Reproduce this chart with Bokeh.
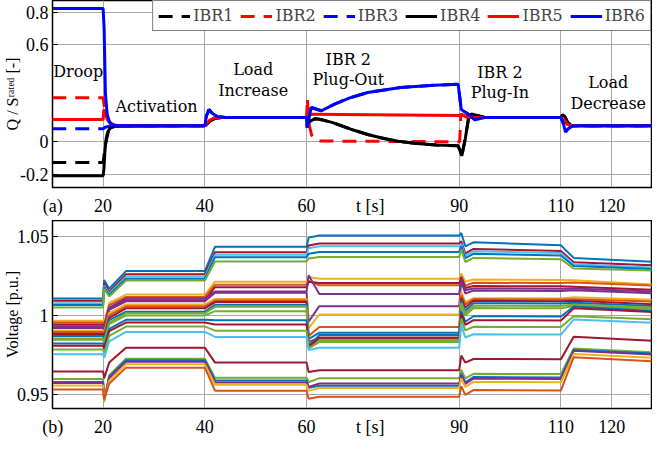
from bokeh.plotting import figure
from bokeh.layouts import column
from bokeh.models import Range1d, FixedTicker, Label, Legend, LegendItem, ColumnDataSource
from bokeh.embed import file_html
from bokeh.resources import INLINE

FONT = "'Liberation Serif', 'Times New Roman', serif"   # axes
TEXT_FONT = "DejaVu Serif"                               # annotations and legend

# ---------------- axis ticks ----------------
X_TICKS = [20, 40, 60, 90, 110, 120]
Q_TICKS = [-0.2, 0, 0.6, 0.8]
V_TICKS = [0.95, 1, 1.05]
ROW_LABEL_X = [10.1, 72.5]
TOP_ROW_TEXT = ["(a)", "t [s]"]
BOT_ROW_TEXT = ["(b)", "t [s]"]

# ---------------- top panel: Q / S_rated ----------------
IBR_NAMES = ["IBR1", "IBR2", "IBR3", "IBR4", "IBR5", "IBR6"]

IBR1_T = [10, 20, 20.2, 20.5, 21.0, 22.0, 23.5, 40, 40.3, 41.0, 42.0, 43.5,
          60, 60.2, 60.8, 61.6, 62.5, 65.0, 68.7, 72.0, 75.2, 78.0, 81.7, 85.5, 89.8,
          90.5, 91.2, 91.8, 92.4, 93.3, 95.0, 110, 110.3, 110.7, 111.3, 112.0, 113.0, 130]
IBR1_Q = [-0.128, -0.128, -0.08, -0.01, 0.06, 0.09, 0.10, 0.10, 0.105, 0.13, 0.145, 0.15,
          0.15, 0.11, 0.13, 0.142, 0.14, 0.12, 0.078, 0.045, 0.02, 0.003, -0.011, -0.02, -0.025,
          -0.087, 0.02, 0.14, 0.172, 0.165, 0.151, 0.15, 0.168, 0.16, 0.12, 0.102, 0.10, 0.10]

IBR2_T = [10, 20, 20.3, 20.8, 21.5, 23, 40, 40.3, 41.0, 42.0,
          60, 60.15, 60.4, 61.0, 62.0, 89.9, 90.1, 90.3, 91.0, 92.0,
          110, 110.5, 111.2, 112.0, 130]
IBR2_Q = [0.272, 0.272, 0.20, 0.14, 0.11, 0.10, 0.10, 0.11, 0.135, 0.15,
          0.15, 0.27, 0.12, 0.04, 0.005, 0.0, 0.0, 0.17, 0.16, 0.15,
          0.15, 0.14, 0.11, 0.10, 0.10]

IBR3_T = [10, 20, 20.4, 21.5, 23, 40, 40.3, 40.8, 41.5, 42.5, 44,
          60, 60.1, 60.9, 62.9, 65.5, 68.5, 72.0, 78.5, 85.0, 89.8,
          90.4, 91.8, 93.1, 95, 110, 110.4, 110.9, 111.4, 112.2, 113, 130]
IBR3_Q = [0.08, 0.08, 0.09, 0.098, 0.10, 0.10, 0.16, 0.20, 0.175, 0.157, 0.15,
          0.15, 0.088, 0.212, 0.192, 0.233, 0.272, 0.305, 0.336, 0.35, 0.356,
          0.20, 0.17, 0.136, 0.15, 0.15, 0.12, 0.06, 0.08, 0.097, 0.10, 0.10]

IBR4_T = [10, 20, 20.15, 20.35, 20.6, 20.9, 21.4, 22.5, 40, 40.3, 41.0, 42.0, 43.5,
          60, 60.2, 60.8, 61.6, 62.5, 65.0, 68.7, 72.0, 75.2, 78.0, 81.7, 85.5, 89.8,
          90.5, 91.2, 91.8, 92.4, 93.3, 95.0, 110, 110.3, 110.7, 111.3, 112.0, 113.0, 130]
IBR4_Q = [-0.21, -0.21, -0.17, -0.06, 0.02, 0.06, 0.085, 0.097, 0.10, 0.105, 0.13, 0.145, 0.15,
          0.15, 0.11, 0.13, 0.142, 0.14, 0.12, 0.078, 0.045, 0.02, 0.003, -0.011, -0.02, -0.025,
          -0.087, 0.02, 0.14, 0.172, 0.165, 0.151, 0.15, 0.168, 0.16, 0.12, 0.102, 0.10, 0.10]

IBR5_T = [10, 20, 20.15, 20.5, 21.0, 21.8, 23, 40, 40.3, 41.0, 42.0,
          60, 60.2, 60.6, 61.2, 90, 90.5, 91.5, 93, 110, 110.5, 111.2, 112.0, 130]
IBR5_Q = [0.138, 0.138, 0.20, 0.17, 0.13, 0.108, 0.10, 0.10, 0.11, 0.135, 0.15,
          0.15, 0.185, 0.165, 0.171, 0.162, 0.17, 0.152, 0.15, 0.15, 0.14, 0.11, 0.10, 0.10]

IBR6_T = [10, 20, 20.2, 20.45, 20.8, 21.3, 22.1, 24, 40, 40.3, 40.8, 41.5, 42.5, 44,
          60, 60.1, 60.9, 62.9, 65.5, 68.5, 72.0, 78.5, 85.0, 89.8,
          90.4, 91.8, 93.1, 95, 110, 110.4, 110.9, 111.4, 112.2, 113, 130]
IBR6_Q = [0.825, 0.825, 0.70, 0.30, 0.17, 0.12, 0.10, 0.10, 0.10, 0.16, 0.20, 0.175, 0.157, 0.15,
          0.15, 0.088, 0.212, 0.192, 0.233, 0.272, 0.305, 0.336, 0.35, 0.356,
          0.20, 0.17, 0.136, 0.15, 0.15, 0.12, 0.06, 0.08, 0.097, 0.10, 0.10]

IBR_COLORS = ["black", "#FF0000", "#0000FF", "black", "#FF0000", "#0000FF"]
IBR_DASH = ["14 9", "14 9", "14 9", "solid", "solid", "solid"]

# ---------------- top panel annotations ----------------
EVENT_TEXT = ["Droop", "Activation", "Load", "Increase", "IBR 2", "Plug-Out",
              "IBR 2", "Plug-In", "Load", "Decrease"]
EVENT_X = [15.1, 30.5, 49.5, 49.5, 68.2, 68.2, 98.0, 98.0, 119.3, 119.3]
EVENT_Y = [0.435, 0.218, 0.447, 0.317, 0.511, 0.387, 0.429, 0.305, 0.367, 0.237]

# ---------------- bottom panel: bus voltages ----------------
KNOT_T = [10, 20, 20.2, 21.2, 24.5, 40, 42, 60, 60.4, 62.5, 90, 90.4, 91.2, 92.8, 110, 112.5, 130]

BLUE, ORANGE, YELLOW, PURPLE = "#0072BD", "#D95319", "#EDB120", "#7E2F8E"
GREEN, LBLUE, DRED = "#77AC30", "#4DBEEE", "#A2142F"
BUS_COLORS = [BLUE, DRED, LBLUE, BLUE, GREEN,
              YELLOW, ORANGE, DRED, PURPLE, PURPLE, YELLOW, ORANGE, DRED, BLUE, GREEN,
              GREEN, BLUE, DRED, GREEN, LBLUE,
              DRED, GREEN, BLUE, PURPLE, YELLOW, ORANGE]

V_DROOP = [1.0108, 1.0093, 1.0078, 1.0066, 1.0051,
           0.9967, 0.9955, 0.9942, 0.9932, 0.9920, 0.9905, 0.9895, 0.9882, 0.9870, 0.9853,
           0.9845, 0.9822, 0.9807, 0.9784, 0.9753,
           0.9644, 0.9596, 0.9577, 0.9570, 0.9555, 0.9529]
V_T20 = [1.0225, 1.0205, 1.0190, 1.0180, 1.0170,
         0.9950, 0.9940, 0.9930, 0.9920, 0.9905, 0.9890, 0.9880, 0.9865, 0.9850, 0.9835,
         0.9825, 0.9800, 0.9785, 0.9760, 0.9730,
         0.9600, 0.9450, 0.9460, 0.9470, 0.9455, 0.9465]
V_R20 = [1.0170, 1.0150, 1.0140, 1.0130, 1.0120,
         1.0080, 1.0065, 1.0045, 1.0050, 1.0035, 1.0015, 1.0000, 0.9985, 0.9970, 0.9955,
         0.9945, 0.9915, 0.9900, 0.9870, 0.9835,
         0.9700, 0.9620, 0.9610, 0.9600, 0.9585, 0.9565]
V_ACT = [1.0282, 1.0262, 1.0247, 1.0234, 1.0222,
         1.0133, 1.0118, 1.0097, 1.0108, 1.0090, 1.0070, 1.0058, 1.0045, 1.0024, 1.0014,
         1.0000, 0.9972, 0.9955, 0.9929, 0.9895,
         0.9795, 0.9725, 0.9715, 0.9705, 0.9690, 0.9668]
V_INC = [1.0437, 1.0402, 1.0386, 1.0371, 1.0343,
         1.0215, 1.0195, 1.0180, 1.0152, 1.0145, 1.0105, 1.0095, 1.0085, 1.0068, 1.0055,
         1.0027, 0.9970, 0.9943, 0.9903, 0.9863,
         0.9700, 0.9603, 0.9586, 0.9574, 0.9559, 0.9521]
V_T60 = [1.0495, 1.0445, 1.0428, 1.0392, 1.0362,
         1.0245, 1.0220, 1.0215, 1.0255, 0.9960, 0.9920, 0.9870, 0.9830, 0.9850, 0.9825,
         0.9810, 0.9805, 0.9800, 0.9790, 0.9780,
         0.9640, 0.9575, 0.9540, 0.9545, 0.9520, 0.9470]
V_OUT = [1.0508, 1.0458, 1.0440, 1.0404, 1.0372,
         1.0234, 1.0192, 1.0206, 1.0137, 1.0059, 1.0006, 0.9926, 0.9858, 0.9890, 0.9844,
         0.9831, 0.9875, 0.9858, 0.9831, 0.9795,
         0.9652, 0.9601, 0.9553, 0.9567, 0.9538, 0.9483]
V_T90 = [1.0525, 1.0472, 1.0455, 1.0440, 1.0420,
         1.0268, 1.0250, 1.0240, 1.0230, 1.0220, 1.0150, 1.0130, 1.0110, 1.0095, 1.0080,
         1.0065, 1.0030, 1.0010, 0.9980, 0.9940,
         0.9745, 0.9655, 0.9630, 0.9620, 0.9600, 0.9550]
V_D90 = [1.0440, 1.0395, 1.0380, 1.0365, 1.0340,
         1.0215, 1.0190, 1.0175, 1.0160, 1.0140, 1.0085, 1.0070, 1.0050, 1.0030, 1.0015,
         1.0000, 0.9960, 0.9940, 0.9905, 0.9860,
         0.9700, 0.9600, 0.9575, 0.9565, 0.9545, 0.9495]
V_IN = [1.0465, 1.0423, 1.0408, 1.0392, 1.0366,
        1.0229, 1.0208, 1.0187, 1.0172, 1.0158, 1.0110, 1.0103, 1.0093, 1.0078, 1.0062,
        1.0047, 0.9995, 0.9970, 0.9928, 0.9880,
        0.9723, 0.9629, 0.9608, 0.9598, 0.9577, 0.9525]
V_IN_END = [1.0446, 1.0410, 1.0398, 1.0382, 1.0358,
            1.0226, 1.0206, 1.0185, 1.0170, 1.0156, 1.0108, 1.0101, 1.0090, 1.0076, 1.0060,
            1.0045, 0.9993, 0.9968, 0.9926, 0.9878,
            0.9721, 0.9627, 0.9606, 0.9596, 0.9575, 0.9523]
V_DEC = [1.0366, 1.0339, 1.0326, 1.0315, 1.0299,
         1.0224, 1.0210, 1.0183, 1.0172, 1.0160, 1.0115, 1.0103, 1.0093, 1.0080, 1.0070,
         1.0060, 1.0057, 1.0045, 0.9995, 0.9974,
         0.9865, 0.9790, 0.9780, 0.9775, 0.9755, 0.9734]
V_DEC_END = [1.0338, 1.0316, 1.0303, 1.0293, 1.0284,
             1.0193, 1.0188, 1.0160, 1.0149, 1.0138, 1.0098, 1.0087, 1.0068, 1.0058, 1.0048,
             1.0038, 1.0024, 1.0018, 0.9973, 0.9951,
             0.9836, 0.9763, 0.9755, 0.9748, 0.9728, 0.9705]

PHASE_AT_KNOT = [V_DROOP, V_DROOP, V_T20, V_R20, V_ACT, V_ACT, V_INC, V_INC, V_T60,
                 V_OUT, V_OUT, V_T90, V_D90, V_IN, V_IN_END, V_DEC, V_DEC_END]

GRID = "#a8a8a8"


def style(p, yticks, yover, row_text, ytitle, title_standoff):
    p.xaxis.ticker = FixedTicker(ticks=sorted(X_TICKS + ROW_LABEL_X))
    p.xaxis.major_label_overrides = dict(zip(ROW_LABEL_X, row_text))
    p.xgrid.ticker = FixedTicker(ticks=X_TICKS)
    p.yaxis.ticker = FixedTicker(ticks=yticks)
    p.yaxis.major_label_overrides = yover
    for ax in p.xaxis + p.yaxis:
        ax.major_label_text_font = FONT
        ax.major_label_text_font_size = "18px"
        ax.major_label_text_color = "black"
        ax.major_tick_in = 5
        ax.major_tick_out = 0
        ax.minor_tick_line_color = None
        ax.axis_line_color = "black"
        ax.major_tick_line_color = "black"
    p.xaxis.major_tick_line_color = None
    p.xaxis.major_label_standoff = 8
    p.yaxis.major_label_standoff = 4
    p.yaxis.axis_label = ytitle
    p.yaxis.axis_label_text_font = FONT
    p.yaxis.axis_label_text_font_size = "16px"
    p.yaxis.axis_label_text_font_style = "normal"
    p.yaxis.axis_label_text_color = "black"
    p.yaxis.axis_label_standoff = title_standoff
    p.xgrid.grid_line_color = GRID
    p.ygrid.grid_line_color = GRID
    p.outline_line_color = "black"
    p.outline_line_width = 1.5
    p.background_fill_color = "white"
    p.border_fill_color = "white"


# ---------------- top figure ----------------
p1 = figure(width=652, height=220, x_range=Range1d(10.05, 127.8), y_range=Range1d(-0.2828, 0.8744),
            output_backend="svg", toolbar_location=None,
            min_border_left=47, min_border_right=1, min_border_top=0, min_border_bottom=33)
style(p1, Q_TICKS, {-0.2: "-0.2", 0: "0", 0.6: "0.6", 0.8: "0.8"}, TOP_ROW_TEXT,
      "Q / S\u02b3\u1d43\u1d57\u1d49\u1d48 [-]", -4)

series = [(IBR1_T, IBR1_Q), (IBR2_T, IBR2_Q), (IBR3_T, IBR3_Q),
          (IBR4_T, IBR4_Q), (IBR5_T, IBR5_Q), (IBR6_T, IBR6_Q)]
renderers = []
for (t, q), c, d in zip(series, IBR_COLORS, IBR_DASH):
    renderers.append(p1.line(t, q, line_color=c, line_width=3, line_dash=d))

legend = Legend(items=[LegendItem(label=n, renderers=[r]) for n, r in zip(IBR_NAMES, renderers)],
                orientation="horizontal", location="top_right", margin=0, padding=5, spacing=7,
                glyph_width=32, glyph_height=18, label_standoff=3, label_height=18,
                label_text_font=TEXT_FONT, label_text_font_size="16px",
                border_line_color="black", border_line_width=1.5,
                background_fill_color="white", background_fill_alpha=1.0)
p1.add_layout(legend)

for txt, x, y in zip(EVENT_TEXT, EVENT_X, EVENT_Y):
    p1.add_layout(Label(x=x, y=y, text=txt, text_font=TEXT_FONT, text_font_size="16px",
                        text_font_style="normal", text_color="black",
                        text_align="center", text_baseline="middle"))

# ---------------- bottom figure ----------------
p2 = figure(width=652, height=219, x_range=Range1d(10.05, 127.8), y_range=Range1d(0.9408, 1.0604),
            output_backend="svg", toolbar_location=None,
            min_border_left=47, min_border_right=1, min_border_top=0, min_border_bottom=28)
style(p2, V_TICKS, {0.95: "0.95", 1: "1", 1.05: "1.05"}, BOT_ROW_TEXT, "Voltage [p.u.]", -7)

xs, ys = [], []
for i in range(len(BUS_COLORS)):
    xs.append(list(KNOT_T))
    ys.append([phase[i] for phase in PHASE_AT_KNOT])
src = ColumnDataSource(data=dict(xs=xs, ys=ys, color=BUS_COLORS))
p2.multi_line(xs="xs", ys="ys", line_color="color", line_width=2, source=src)

layout = column(p1, p2, spacing=0)
open("out.html", "w").write(file_html(layout, INLINE, "chart"))
